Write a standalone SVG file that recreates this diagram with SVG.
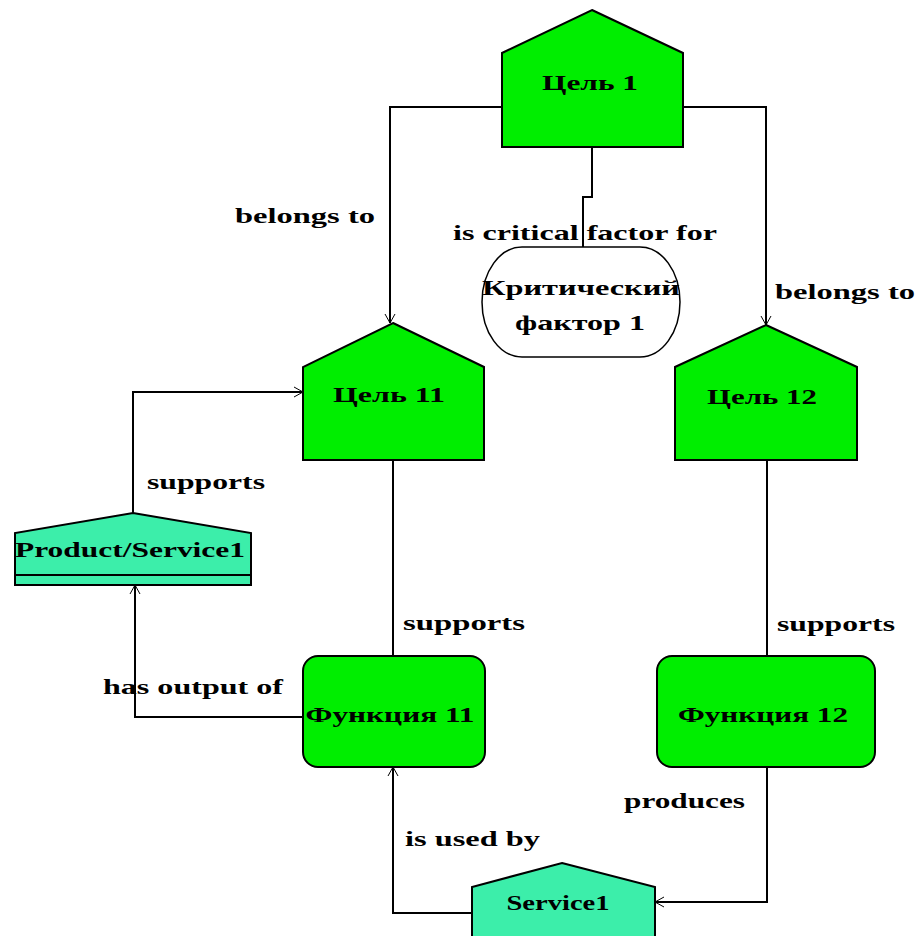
<svg xmlns="http://www.w3.org/2000/svg" width="918" height="936" viewBox="0 0 918 936">
  <style>
    .goal { fill: #00EE00; stroke: #000; stroke-width: 2; }
    .func { fill: #00EE00; stroke: #000; stroke-width: 2; }
    .prod { fill: #3CEEAA; stroke: #000; stroke-width: 2; }
    .crit { fill: #fff; stroke: #000; stroke-width: 1.5; }
    .conn { fill: none; stroke: #000; stroke-width: 2; }
    text { font-family: "Liberation Serif", "Times New Roman", serif; font-weight: bold; font-size: 22px; fill: #000; }
    .c { text-anchor: middle; }
  </style>
  <defs>
    <marker id="arrow" markerUnits="userSpaceOnUse" markerWidth="14" markerHeight="14" refX="10" refY="6" orient="auto">
      <path d="M1,1 L10,6 L1,11" fill="none" stroke="#000" stroke-width="1"/>
    </marker>
  </defs>

  <rect width="918" height="936" fill="#fff"/>

  <!-- connectors -->
  <g id="connectors">
    <path class="conn" d="M502,107 H390 V323" marker-end="url(#arrow)"/>
    <path class="conn" d="M683,107 H766 V325" marker-end="url(#arrow)"/>
    <path class="conn" d="M592,147 V197 H583 V247"/>
    <path class="conn" d="M133,513 V392 H303" marker-end="url(#arrow)"/>
    <path class="conn" d="M393,460 V656"/>
    <path class="conn" d="M303,717 H135 V585" marker-end="url(#arrow)"/>
    <path class="conn" d="M767,460 V656"/>
    <path class="conn" d="M767,767 V902 H655" marker-end="url(#arrow)"/>
    <path class="conn" d="M472,913 H393 V767" marker-end="url(#arrow)"/>

    <text x="235" y="223" textLength="140" lengthAdjust="spacingAndGlyphs">belongs to</text>
    <text x="453" y="240" textLength="264" lengthAdjust="spacingAndGlyphs">is critical factor for</text>
    <text x="775" y="299" textLength="140" lengthAdjust="spacingAndGlyphs">belongs to</text>
    <text x="147" y="489" textLength="118" lengthAdjust="spacingAndGlyphs">supports</text>
    <text x="403" y="630" textLength="122" lengthAdjust="spacingAndGlyphs">supports</text>
    <text x="777" y="631" textLength="118" lengthAdjust="spacingAndGlyphs">supports</text>
    <text x="103" y="694" textLength="180" lengthAdjust="spacingAndGlyphs">has output of</text>
    <text x="624" y="808" textLength="121" lengthAdjust="spacingAndGlyphs">produces</text>
    <text x="405" y="846" textLength="135" lengthAdjust="spacingAndGlyphs">is used by</text>
  </g>

  <!-- nodes -->
  <g id="goal1">
    <polygon class="goal" points="592,10 683,53 683,147 502,147 502,53"/>
    <text x="590" y="90" class="c" textLength="96" lengthAdjust="spacingAndGlyphs">Цель 1</text>
  </g>

  <g id="critical1">
    <rect class="crit" x="482" y="247" width="198" height="110" rx="40" ry="55"/>
    <text x="581" y="295" class="c" textLength="198" lengthAdjust="spacingAndGlyphs">Критический</text>
    <text x="580" y="330" class="c" textLength="130" lengthAdjust="spacingAndGlyphs">фактор 1</text>
  </g>

  <g id="goal11">
    <polygon class="goal" points="393,323 484,367 484,460 303,460 303,367"/>
    <text x="389" y="402" class="c" textLength="112" lengthAdjust="spacingAndGlyphs">Цель 11</text>
  </g>

  <g id="goal12">
    <polygon class="goal" points="766,325 857,367 857,460 675,460 675,367"/>
    <text x="762" y="404" class="c" textLength="110" lengthAdjust="spacingAndGlyphs">Цель 12</text>
  </g>

  <g id="productService1">
    <polygon class="prod" points="133,513 251,533 251,585 15,585 15,533"/>
    <line x1="15" y1="575" x2="251" y2="575" stroke="#000" stroke-width="2"/>
    <text x="130" y="557" class="c" textLength="230" lengthAdjust="spacingAndGlyphs">Product/Service1</text>
  </g>

  <g id="function11">
    <rect class="func" x="303" y="656" width="182" height="111" rx="15" ry="15"/>
    <text x="390" y="722" class="c" textLength="169" lengthAdjust="spacingAndGlyphs">Функция 11</text>
  </g>

  <g id="function12">
    <rect class="func" x="657" y="656" width="218" height="111" rx="15" ry="15"/>
    <text x="763" y="722" class="c" textLength="170" lengthAdjust="spacingAndGlyphs">Функция 12</text>
  </g>

  <g id="service1">
    <polygon class="prod" points="562,863 655,887 655,940 472,940 472,887"/>
    <text x="558" y="910" class="c" textLength="103" lengthAdjust="spacingAndGlyphs">Service1</text>
  </g>
</svg>
